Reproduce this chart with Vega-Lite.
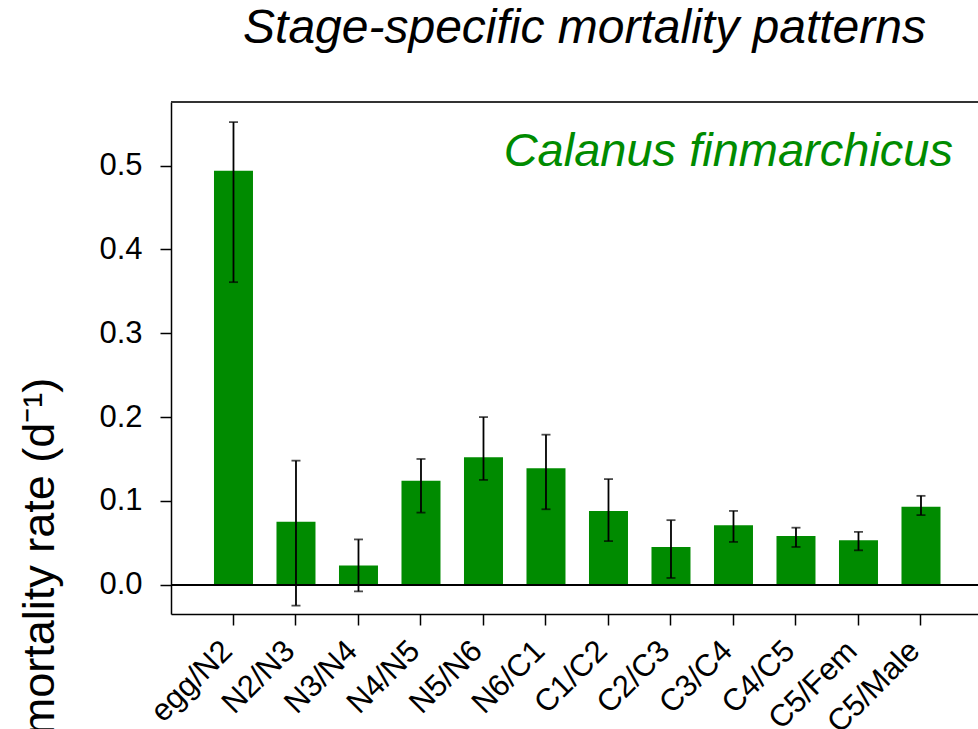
{
  "$schema": "https://vega.github.io/schema/vega-lite/v6.json",
  "autosize": {"type": "none"},
  "padding": {"left": 171, "top": 102, "right": 0, "bottom": 115},
  "width": 807,
  "height": 512,
  "background": "white",
  "config": {
    "view": {"stroke": null},
    "font": "Liberation Sans",
    "axis": {"grid": false}
  },
  "title": {
    "text": "Stage-specific mortality patterns",
    "fontStyle": "italic",
    "fontWeight": "normal",
    "fontSize": 48,
    "color": "black",
    "font": "Liberation Sans",
    "anchor": "middle",
    "baseline": "alphabetic",
    "offset": 10,
    "dx": 10
  },
  "data": {
    "values": [
      {"stage": "egg/N2", "rate": 0.494, "lo": 0.361, "hi": 0.552},
      {"stage": "N2/N3", "rate": 0.075, "lo": -0.025, "hi": 0.148},
      {"stage": "N3/N4", "rate": 0.023, "lo": -0.008, "hi": 0.054},
      {"stage": "N4/N5", "rate": 0.124, "lo": 0.086, "hi": 0.150},
      {"stage": "N5/N6", "rate": 0.152, "lo": 0.125, "hi": 0.200},
      {"stage": "N6/C1", "rate": 0.139, "lo": 0.090, "hi": 0.179},
      {"stage": "C1/C2", "rate": 0.088, "lo": 0.052, "hi": 0.126},
      {"stage": "C2/C3", "rate": 0.045, "lo": 0.008, "hi": 0.077},
      {"stage": "C3/C4", "rate": 0.071, "lo": 0.051, "hi": 0.088},
      {"stage": "C4/C5", "rate": 0.058, "lo": 0.045, "hi": 0.068},
      {"stage": "C5/Fem", "rate": 0.053, "lo": 0.041, "hi": 0.063},
      {"stage": "C5/Male", "rate": 0.093, "lo": 0.083, "hi": 0.106}
    ]
  },
  "layer": [
    {
      "encoding": {
        "x": {
          "field": "stage", "type": "nominal", "sort": null,
          "scale": {
            "domain": ["egg/N2", "N2/N3", "N3/N4", "N4/N5", "N5/N6", "N6/C1", "C1/C2", "C2/C3", "C3/C4", "C4/C5", "C5/Fem", "C5/Male"],
            "paddingInner": 0.376, "paddingOuter": 0.644, "align": 0.534
          },
          "axis": {
            "title": null,
            "labelAngle": -45,
            "labelAlign": "right",
            "labelBaseline": "middle",
            "labelFontSize": 31,
            "labelColor": "black",
            "labelPadding": 21,
            "labelOffset": -6,
            "tickSize": 11,
            "tickColor": "black",
            "tickWidth": 1.5,
            "domainColor": "black",
            "domainWidth": 1.5
          }
        }
      },
      "layer": [
        {
          "mark": {"type": "bar", "color": "#008B00"},
          "encoding": {
            "y": {
              "field": "rate", "type": "quantitative",
              "scale": {"domain": [-0.035, 0.576], "nice": false, "zero": false},
              "axis": {
                "values": [0, 0.1, 0.2, 0.3, 0.4, 0.5],
                "format": ".1f",
                "title": "mortality rate (d⁻¹)",
                "titleFontSize": 45,
                "titleFontWeight": "normal",
                "titleColor": "black",
                "titleAngle": 270,
                "titleAlign": "center",
                "titleBaseline": "alphabetic",
                "titleX": -118,
                "titleY": 454,
                "labelFontSize": 31,
                "labelColor": "black",
                "labelPadding": 18,
                "tickSize": 11,
                "tickColor": "black",
                "tickWidth": 1.5,
                "domainColor": "black",
                "domainWidth": 1.5
              }
            }
          }
        },
        {
          "mark": {"type": "rule", "color": "black", "strokeWidth": 1.8},
          "encoding": {
            "y": {"field": "lo", "type": "quantitative"},
            "y2": {"field": "hi"}
          }
        },
        {
          "mark": {"type": "tick", "color": "black", "size": 9, "thickness": 1.8},
          "encoding": {"y": {"field": "lo", "type": "quantitative"}}
        },
        {
          "mark": {"type": "tick", "color": "black", "size": 9, "thickness": 1.8},
          "encoding": {"y": {"field": "hi", "type": "quantitative"}}
        }
      ]
    },
    {
      "mark": {"type": "rule", "color": "black", "strokeWidth": 1.5},
      "encoding": {"y": {"datum": 0}}
    },
    {
      "mark": {"type": "rule", "color": "#333", "strokeWidth": 1.5},
      "encoding": {"y": {"datum": 0.576}}
    },
    {
      "data": {"values": [{"label": "Calanus finmarchicus", "stage": "C5/Male", "v": 0.5}]},
      "mark": {"type": "text", "color": "#008B00", "fontSize": 47, "fontStyle": "italic", "align": "right", "baseline": "alphabetic", "dx": 32},
      "encoding": {
        "text": {"field": "label"},
        "x": {"field": "stage", "type": "nominal", "sort": null},
        "y": {"field": "v", "type": "quantitative"}
      }
    }
  ]
}
